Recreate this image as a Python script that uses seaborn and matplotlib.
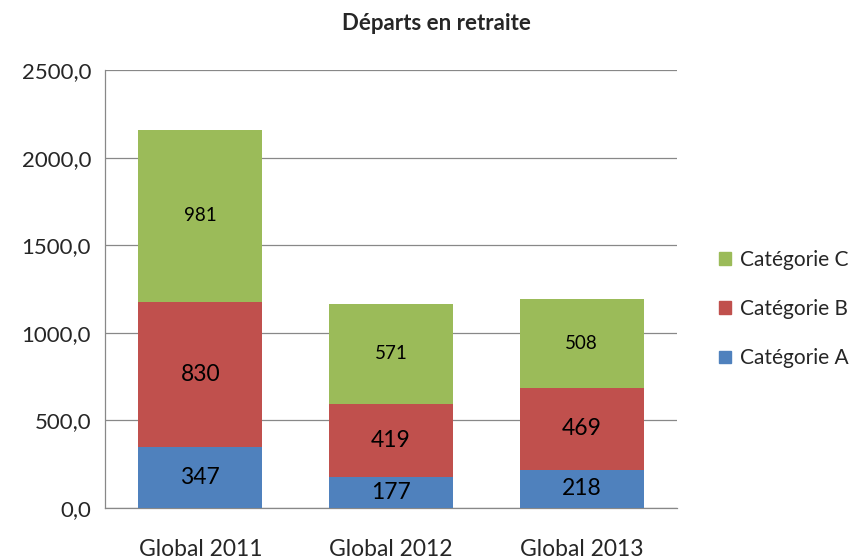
import matplotlib
matplotlib.use("Agg")
import matplotlib.pyplot as plt
import seaborn as sns
import pandas as pd
from matplotlib.patches import Patch

categories = ["Global 2011", "Global 2012", "Global 2013"]
cat_a = [347, 177, 218]
cat_b = [830, 419, 469]
cat_c = [981, 571, 508]
series_names = ["Catégorie A", "Catégorie B", "Catégorie C"]
yticks = [0, 500, 1000, 1500, 2000, 2500]
colors = ["#4F81BD", "#C0504D", "#9BBB59"]

sns.set_theme(style="white")
plt.rcParams['font.family'] = ['Lato', 'DejaVu Sans']

fig = plt.figure(figsize=(8.56, 5.59), dpi=100)
ax = fig.add_axes([105/856, 1-508/559, (677-105)/856, (508-70)/559])

df = pd.DataFrame({"cat": categories, "A": cat_a, "B": cat_b, "C": cat_c})
bottom = [0]*3
label_sizes = [16.5, 16.5, 13.5]
for s, name, col, fs in zip(["A", "B", "C"], series_names, colors, label_sizes):
    sns.barplot(data=df, x="cat", y=s, color=col, width=0.65, bottom=bottom,
                ax=ax, saturation=1, zorder=3, linewidth=0)
    for i, (v, b) in enumerate(zip(df[s], bottom)):
        ax.text(i, b + v/2, f"{v}", ha="center", va="center", fontsize=fs, color="black", zorder=4)
    bottom = [b + v for b, v in zip(bottom, df[s])]

ax.set_ylim(0, 2500)
ax.set_xlim(-0.5, 2.5)
ax.set_yticks(yticks)
ax.set_yticklabels([f"{v:.1f}".replace(".", ",") for v in yticks], fontsize=16)
ax.set_xticks(range(3))
ax.set_xticklabels(categories, fontsize=16.5)
ax.tick_params(axis="x", pad=22, length=0)
ax.tick_params(axis="y", pad=10, length=0)
ax.set_xlabel("")
ax.set_ylabel("")
ax.yaxis.grid(True, color="#888888", linewidth=0.9, zorder=0)
for sp in ["top", "right"]:
    ax.spines[sp].set_visible(False)
for sp in ["left", "bottom"]:
    ax.spines[sp].set_color("#888888")
    ax.spines[sp].set_linewidth(0.9)

fig.text(436/856, 1-24/559, "Départs en retraite", ha="center", va="center",
         fontsize=16, fontweight="bold")

handles = [Patch(color=c, label=n) for c, n in zip(colors, series_names)][::-1]
fig.legend(handles=handles, loc="center left", bbox_to_anchor=(715/856, 1-309/559),
           frameon=False, fontsize=15, handlelength=0.55, handleheight=0.55,
           handletextpad=0.45, labelspacing=1.4, borderpad=0.2, borderaxespad=0)

fig.savefig("out.png", dpi=100)
